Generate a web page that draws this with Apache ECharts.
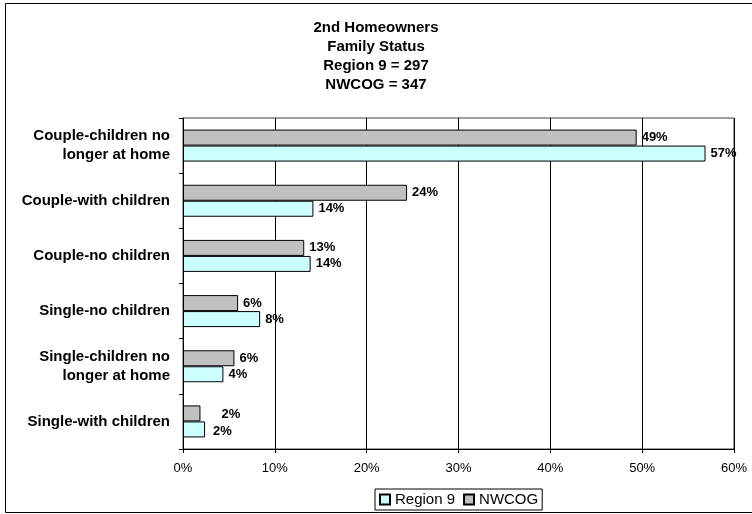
<!DOCTYPE html>
<html>
<head>
<meta charset="utf-8">
<script src="https://cdn.jsdelivr.net/npm/echarts@6/dist/echarts.min.js"></script>
<style>
html,body{margin:0;padding:0;background:#fff;}
#chart{width:752px;height:514px;}
</style>
</head>
<body>
<div id="chart"></div>
<script>
// Data (fractions of respondents)
var categories = [
  'Couple-children no\nlonger at home',
  'Couple-with children',
  'Couple-no children',
  'Single-no children',
  'Single-children no\nlonger at home',
  'Single-with children'
];
var region9 = [0.569, 0.142, 0.139, 0.084, 0.044, 0.024];
var nwcog   = [0.494, 0.244, 0.132, 0.060, 0.056, 0.019];
var xTicks = [0, 0.1, 0.2, 0.3, 0.4, 0.5, 0.6];
var titleLines = ['2nd Homeowners', 'Family Status', 'Region 9 = 297', 'NWCOG = 347'];

var FONT = '"Liberation Sans", Arial, sans-serif';
var chart = echarts.init(document.getElementById('chart'), null, {renderer: 'canvas'});

function pct(v) { return Math.round(v * 100) + '%'; }

function buildData(arr, lastOffset) {
  return arr.map(function (v, i) {
    if (i === arr.length - 1) {
      return {value: v, label: {offset: lastOffset}};
    }
    return v;
  });
}

var barLabel = {
  show: true,
  position: 'right',
  distance: 5,
  color: '#000',
  fontFamily: FONT,
  fontWeight: 'bold',
  fontSize: 13,
  formatter: function (p) { return pct(p.value); }
};

var option = {
  animation: false,
  backgroundColor: '#fff',
  textStyle: {fontFamily: FONT},
  title: {
    text: titleLines.join('\n'),
    left: 'center',
    top: 18,
    padding: [0, 0, 0, 10],
    textStyle: {
      fontFamily: FONT,
      fontWeight: 'bold',
      fontSize: 15,
      lineHeight: 19,
      color: '#000'
    }
  },
  legend: {
    data: ['Region 9', 'NWCOG'],
    left: 375,
    top: 489,
    orient: 'horizontal',
    padding: [3, 4, 3, 4],
    itemGap: 8,
    itemWidth: 10,
    itemHeight: 10,
    borderColor: '#000',
    borderWidth: 1,
    icon: 'rect',
    textStyle: {fontFamily: FONT, fontSize: 15, color: '#000'}
  },
  grid: {
    left: 183,
    right: 18,
    top: 118,
    bottom: 65,
    show: true,
    borderColor: '#404040',
    borderWidth: 1,
    containLabel: false
  },
  xAxis: {
    type: 'value',
    min: xTicks[0],
    max: xTicks[xTicks.length - 1],
    interval: 0.1,
    axisLine: {show: true, lineStyle: {color: '#000', width: 1}},
    axisTick: {show: true, length: 4, lineStyle: {color: '#000'}},
    splitLine: {show: true, lineStyle: {color: '#000', width: 1}},
    axisLabel: {
      color: '#000',
      fontFamily: FONT,
      fontSize: 13,
      margin: 13,
      formatter: function (v) { return pct(v); }
    }
  },
  yAxis: {
    type: 'category',
    data: categories,
    inverse: true,
    axisLine: {show: true, lineStyle: {color: '#000', width: 1}},
    axisTick: {show: true, length: 4, lineStyle: {color: '#000'}},
    axisLabel: {
      color: '#000',
      fontFamily: FONT,
      fontWeight: 'bold',
      fontSize: 15,
      lineHeight: 19,
      margin: 13,
      align: 'right'
    }
  },
  series: [
    {
      name: 'NWCOG',
      type: 'bar',
      barWidth: 16,
      barGap: '0%',
      itemStyle: {color: '#C0C0C0', borderColor: '#000', borderWidth: 1},
      label: barLabel,
      data: buildData(nwcog, [16, 1])
    },
    {
      name: 'Region 9',
      type: 'bar',
      barWidth: 16,
      barGap: '0%',
      itemStyle: {color: '#CCFFFF', borderColor: '#000', borderWidth: 1},
      label: barLabel,
      data: buildData(region9, [3, 2])
    }
  ],
  graphic: [
    {
      type: 'rect',
      silent: true,
      z: 100,
      shape: {x: 5.5, y: 3.5, width: 760, height: 509},
      style: {fill: null, stroke: '#000', lineWidth: 1}
    }
  ]
};

chart.setOption(option);
</script>
</body>
</html>
